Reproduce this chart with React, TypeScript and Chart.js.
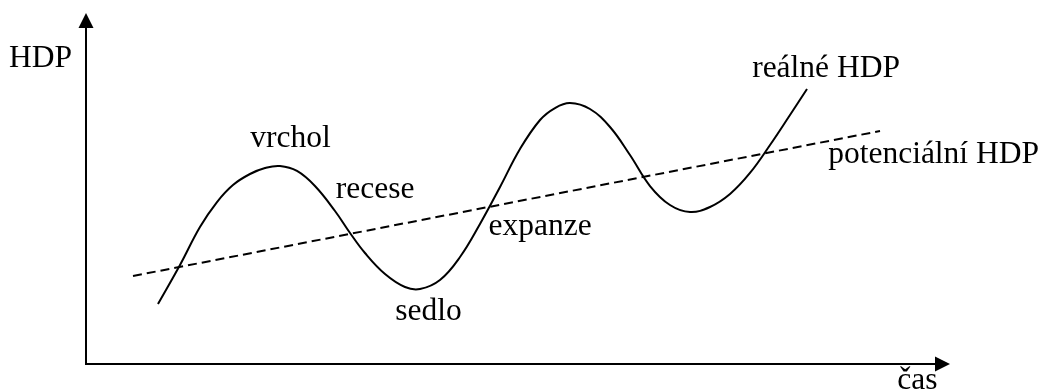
import React, { useEffect, useRef } from "react";
import { Chart, registerables } from "chart.js";

Chart.register(...registerables);

// Real GDP (reálné HDP) — time vs. output, in abstract units (0..100)
const realX = [8.33, 10.88, 13.19, 15.16, 17.01, 18.98, 20.72, 22.45, 24.42, 26.5, 28.82, 30.56, 32.29, 34.61, 36.92, 38.66, 40.97, 43.29, 45.6, 47.92, 50.23, 52.55, 54.28, 56.02, 58.33, 60.65, 62.96, 65.28, 67.59, 69.91, 72.22, 74.54, 76.85, 79.17, 81.48, 83.45];
const realY = [17.09, 28.21, 39.03, 46.15, 51.0, 54.13, 55.84, 56.41, 54.99, 50.71, 43.59, 37.32, 31.62, 25.64, 21.94, 21.37, 23.93, 30.48, 39.89, 50.43, 61.25, 69.52, 72.93, 74.36, 72.65, 67.52, 59.54, 50.71, 45.3, 43.3, 44.73, 48.43, 54.42, 62.39, 70.94, 78.35];

// Potential GDP (potenciální HDP) — linear trend
const potX = [5.44, 91.9];
const potY = [25.07, 66.38];

// Annotation texts and their anchor (left, baseline) in data units
const labelTexts = ["HDP", "čas", "vrchol", "recese", "sedlo", "expanze", "reálné HDP", "potenciální HDP"];
const labelX = [-8.9, 93.9, 19.0, 28.9, 35.8, 46.6, 77.1, 85.9];
const labelY = [84.6, -7.1, 61.8, 47.3, 12.5, 36.8, 81.8, 57.3];

const FONT = '31.5px "Liberation Serif", "Times New Roman", serif';

const axesPlugin = {
  id: "arrowAxes",
  beforeDatasetsDraw(chart: any) {
    const { ctx, chartArea } = chart;
    const { left, right, top, bottom } = chartArea;
    ctx.save();
    ctx.strokeStyle = "#000";
    ctx.fillStyle = "#000";
    ctx.lineWidth = 2;
    const head = 15;
    const half = 7.5;
    ctx.beginPath();
    ctx.moveTo(left, bottom + 1);
    ctx.lineTo(left, top + head);
    ctx.moveTo(left - 1, bottom);
    ctx.lineTo(right - head, bottom);
    ctx.stroke();
    ctx.beginPath();
    ctx.moveTo(left, top);
    ctx.lineTo(left - half, top + head);
    ctx.lineTo(left + half, top + head);
    ctx.closePath();
    ctx.fill();
    ctx.beginPath();
    ctx.moveTo(right, bottom);
    ctx.lineTo(right - head, bottom - half);
    ctx.lineTo(right - head, bottom + half);
    ctx.closePath();
    ctx.fill();
    ctx.restore();
  },
  afterDraw(chart: any) {
    const { ctx, scales } = chart;
    ctx.save();
    ctx.fillStyle = "#000";
    ctx.font = FONT;
    ctx.textAlign = "left";
    ctx.textBaseline = "alphabetic";
    labelTexts.forEach((t, i) => {
      ctx.fillText(t, scales.x.getPixelForValue(labelX[i]), scales.y.getPixelForValue(labelY[i]));
    });
    ctx.restore();
  },
};

export default function App() {
  const ref = useRef<HTMLCanvasElement | null>(null);
  useEffect(() => {
    if (!ref.current) return;
    const chart = new Chart(ref.current, {
      type: "scatter",
      data: {
        datasets: [
          {
            label: "reálné HDP",
            data: realX.map((x, i) => ({ x, y: realY[i] })),
            showLine: true,
            borderColor: "#000",
            borderWidth: 2,
            pointRadius: 0,
            tension: 0.4,
            fill: false,
          },
          {
            label: "potenciální HDP",
            data: potX.map((x, i) => ({ x, y: potY[i] })),
            showLine: true,
            borderColor: "#000",
            borderWidth: 2,
            borderDash: [9, 5],
            pointRadius: 0,
            fill: false,
          },
        ],
      },
      options: {
        animation: false,
        responsive: false,
        layout: { padding: { left: 86, right: 92, top: 13, bottom: 28 } },
        plugins: { legend: { display: false }, tooltip: { enabled: false } },
        scales: {
          x: { type: "linear", min: 0, max: 100, display: false },
          y: { type: "linear", min: 0, max: 100, display: false },
        },
      },
      plugins: [axesPlugin],
    } as any);
    return () => chart.destroy();
  }, []);
  return (
    <div style={{ position: "fixed", left: 0, top: 0, width: 1042, height: 392, background: "#fff" }}>
      <canvas ref={ref} width={1042} height={392} style={{ display: "block" }} />
    </div>
  );
}
